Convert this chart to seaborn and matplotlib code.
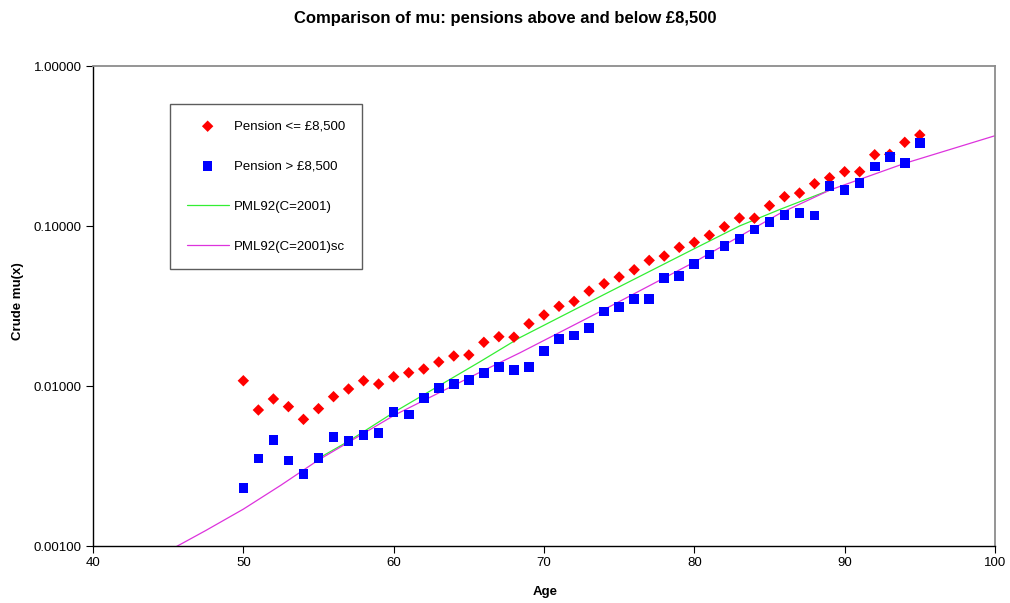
import numpy as np
import pandas as pd
import matplotlib
matplotlib.use("Agg")
import matplotlib.pyplot as plt
import seaborn as sns
from matplotlib.ticker import FixedLocator, FuncFormatter, NullLocator

# Crude mu(x)
ages = list(range(50, 96))
mu_low = [0.01079, 0.00708, 0.00830, 0.00743, 0.00619, 0.00722, 0.00858, 0.00958, 0.01079, 0.01029,
          0.01143, 0.01211, 0.01277, 0.01413, 0.01540, 0.01563, 0.01876, 0.02033, 0.02020, 0.02450,
          0.02780, 0.03150, 0.03380, 0.03920, 0.04360, 0.04800, 0.05330, 0.06100, 0.06490, 0.07360,
          0.07910, 0.08750, 0.09900, 0.11220, 0.11190, 0.13400, 0.15250, 0.16070, 0.18380, 0.20040,
          0.21850, 0.21850, 0.27900, 0.28060, 0.33360, 0.37060]
mu_high = [0.00230, 0.00353, 0.00458, 0.00343, 0.00281, 0.00356, 0.00480, 0.00453, 0.00496, 0.00508,
           0.00685, 0.00662, 0.00838, 0.00976, 0.01033, 0.01086, 0.01211, 0.01309, 0.01264, 0.01315,
           0.01655, 0.01976, 0.02074, 0.02305, 0.02930, 0.03120, 0.03510, 0.03510, 0.04730, 0.04850,
           0.05810, 0.06620, 0.07530, 0.08290, 0.09510, 0.10640, 0.11770, 0.12060, 0.11660, 0.17720,
           0.16850, 0.18570, 0.23600, 0.27100, 0.24770, 0.32900]

# PML92 curves
pml_ages = [55.0, 57.0, 60.07, 65.75, 68.41, 74.04, 80.03, 83.0, 85.7, 89.03]
pml_mu = [0.00353, 0.00452, 0.00690, 0.01420, 0.02010, 0.03750, 0.07240, 0.10000, 0.12700, 0.16800]
sc_ages = [45.0, 47.5, 50.0, 52.5, 55.0, 60.07, 65.75, 68.41, 74.04, 80.03, 85.7, 89.03, 94.0, 100.0]
sc_mu = [0.00093, 0.00125, 0.00170, 0.00240, 0.00345, 0.00659, 0.01220, 0.01615, 0.03020, 0.05970,
         0.12000, 0.16800, 0.24650, 0.36670]

pts = pd.DataFrame({"Age": ages, "low": mu_low, "high": mu_high})
pml = pd.DataFrame({"Age": pml_ages, "mu": pml_mu})
sc = pd.DataFrame({"Age": sc_ages, "mu": sc_mu})

sns.set_style("white")
plt.rcParams["font.family"] = ["Liberation Sans", "DejaVu Sans"]
plt.rcParams["text.color"] = "black"
plt.rcParams["xtick.color"] = "black"
plt.rcParams["ytick.color"] = "black"
plt.rcParams["xtick.labelcolor"] = "black"
plt.rcParams["ytick.labelcolor"] = "black"

fig = plt.figure(figsize=(10.1, 6.03), dpi=100)
ax = fig.add_axes([0.0921, 0.0945, 0.893, 0.796])

sns.scatterplot(data=pts, x="Age", y="low", marker="D", s=34, color="#ff0000",
                edgecolor="none", label="Pension <= £8,500", ax=ax, zorder=3)
sns.scatterplot(data=pts, x="Age", y="high", marker="s", s=48, color="#0000ff",
                edgecolor="none", label="Pension > £8,500", ax=ax, zorder=3)
sns.lineplot(data=pml, x="Age", y="mu", color="#33ee33", linewidth=0.9,
             label="PML92(C=2001)", ax=ax, zorder=2)
sns.lineplot(data=sc, x="Age", y="mu", color="#dd33dd", linewidth=0.9,
             label="PML92(C=2001)sc", ax=ax, zorder=2)

ax.set_yscale("log")
ax.set_xlim(40, 100)
ax.set_ylim(0.001, 1.0)
ax.xaxis.set_major_locator(FixedLocator([40, 50, 60, 70, 80, 90, 100]))
ax.yaxis.set_major_locator(FixedLocator([0.001, 0.01, 0.1, 1.0]))
ax.yaxis.set_minor_locator(NullLocator())
ax.yaxis.set_major_formatter(FuncFormatter(lambda v, p: f"{v:.5f}"))
ax.tick_params(axis="both", direction="out", length=5, width=0.8, color="black",
               labelcolor="black", labelsize=9.5, pad=3, bottom=True, left=True)

for side in ["left", "bottom"]:
    ax.spines[side].set_color("black")
    ax.spines[side].set_linewidth(1.0)
for side in ["top", "right"]:
    ax.spines[side].set_color("#8c8c8c")
    ax.spines[side].set_linewidth(1.3)

ax.set_xlabel("")
ax.set_ylabel("")
fig.text(0.5, 0.970, "Comparison of mu: pensions above and below £8,500",
         ha="center", va="center", fontsize=12, fontweight="bold", color="black")
fig.text(0.54, 0.018, "Age", ha="center", va="center", fontsize=9.5,
         fontweight="bold", color="black")
fig.text(0.018, 0.50, "Crude mu(x)", ha="center", va="center", rotation=90,
         fontsize=9.5, fontweight="bold", color="black")

leg = ax.legend(loc="upper left", bbox_to_anchor=(0.0854, 0.921), frameon=True,
                fancybox=False, shadow=False, fontsize=9.5, labelspacing=2.1,
                borderpad=1.25, handlelength=3.2, handletextpad=0.4, borderaxespad=0)
leg.get_frame().set_edgecolor("#333333")
leg.get_frame().set_linewidth(1.0)
for t in leg.get_texts():
    t.set_color("black")

fig.savefig("out.png", dpi=100)
